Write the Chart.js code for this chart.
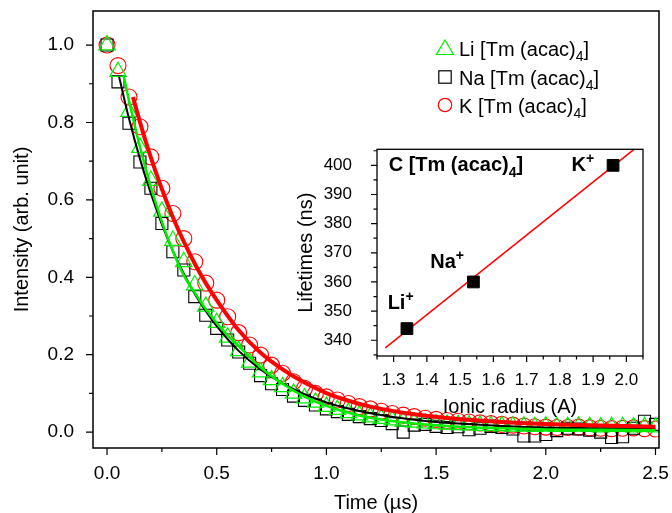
<!DOCTYPE html>
<html lang="en">
<head>
    <meta charset="UTF-8">
    <title>Tm (acac)4 decay</title>
    <style>
        body { margin: 0; background: #fff; }
        #wrap { position: relative; width: 672px; height: 513px; }
        #inset { position: absolute; left: 290px; top: 140px; }
    </style>
</head>
<body>
    <div id="wrap">
        <canvas id="main" width="672" height="513"></canvas>
        <canvas id="inset" width="370" height="280"></canvas>
    </div>

    <script src="https://cdn.jsdelivr.net/npm/chart.js"></script>

    <script>
        // decay data, time in us
        const timeUs = [0, 0.05, 0.1, 0.15, 0.2, 0.25, 0.3, 0.35, 0.4, 0.45, 0.5, 0.55, 0.6, 0.65, 0.7, 0.75, 0.8, 0.85, 0.9, 0.95,
            1.0, 1.05, 1.1, 1.15, 1.2, 1.25, 1.3, 1.35, 1.4, 1.45, 1.5, 1.55, 1.6, 1.65, 1.7, 1.75, 1.8, 1.85, 1.9, 1.95,
            2.0, 2.05, 2.1, 2.15, 2.2, 2.25, 2.3, 2.35, 2.4, 2.45, 2.5];
        const liData = [1.0, 0.931, 0.828, 0.735, 0.65, 0.57, 0.495, 0.44, 0.38, 0.325, 0.283, 0.245, 0.21, 0.18, 0.155, 0.135, 0.117, 0.1, 0.088, 0.077,
            0.066, 0.058, 0.05, 0.044, 0.039, 0.035, 0.031, 0.028, 0.025, 0.023, 0.021, 0.02, 0.019, 0.018, 0.017, 0.016, 0.016, 0.015, 0.015, 0.014,
            0.015, 0.014, 0.014, 0.015, 0.014, 0.013, 0.014, 0.014, 0.013, 0.014, 0.013];
        const naData = [1.0, 0.905, 0.798, 0.698, 0.63, 0.539, 0.466, 0.419, 0.35, 0.302, 0.268, 0.238, 0.207, 0.178, 0.146, 0.125, 0.11, 0.093, 0.082, 0.07,
            0.06, 0.053, 0.046, 0.04, 0.035, 0.03, 0.022, 0.0, 0.018, 0.02, 0.015, 0.012, 0.014, 0.006, 0.01, 0.015, 0.012, 0.008, -0.01, -0.01,
            -0.006, 0.004, 0.01, 0.008, 0.005, 0.0, -0.014, -0.012, 0.01, 0.028, 0.02];
        const kData = [1.0, 0.947, 0.866, 0.789, 0.711, 0.63, 0.565, 0.5, 0.44, 0.385, 0.341, 0.298, 0.257, 0.225, 0.199, 0.173, 0.152, 0.13, 0.113, 0.1,
            0.091, 0.083, 0.074, 0.066, 0.06, 0.054, 0.048, 0.044, 0.04, 0.036, 0.033, 0.03, 0.028, 0.026, 0.024, 0.022, 0.02, 0.018, 0.016, 0.014,
            0.013, 0.012, 0.012, 0.013, 0.011, 0.01, 0.009, 0.01, 0.011, 0.009, 0.008];

        // fitted curves
        const fitLiT = [0.075, 0.1, 0.15, 0.2, 0.25, 0.3, 0.35, 0.4, 0.45, 0.5, 0.55, 0.6, 0.7, 0.8, 0.9, 1.0, 1.1, 1.2, 1.4, 1.6, 1.8, 2.0, 2.25, 2.5];
        const fitLi = [0.922, 0.857, 0.737, 0.633, 0.544, 0.468, 0.405, 0.36, 0.318, 0.282, 0.25, 0.222, 0.167, 0.125, 0.092, 0.068, 0.05, 0.037, 0.022, 0.014, 0.01, 0.007, 0.006, 0.005];
        const fitNaT = [0.055, 0.1, 0.15, 0.2, 0.25, 0.3, 0.35, 0.4, 0.45, 0.5, 0.6, 0.7, 0.8, 0.9, 1.0, 1.1, 1.2, 1.4, 1.6, 1.8, 2.0, 2.25, 2.5];
        const fitNa = [0.918, 0.81, 0.706, 0.616, 0.537, 0.468, 0.409, 0.357, 0.313, 0.274, 0.21, 0.162, 0.126, 0.098, 0.077, 0.061, 0.049, 0.032, 0.022, 0.016, 0.012, 0.01, 0.009];
        const fitKT = [0.118, 0.15, 0.2, 0.25, 0.3, 0.35, 0.4, 0.45, 0.5, 0.6, 0.7, 0.8, 0.9, 1.0, 1.1, 1.2, 1.4, 1.6, 1.8, 2.0, 2.25, 2.5];
        const fitK = [0.866, 0.801, 0.709, 0.628, 0.555, 0.492, 0.435, 0.385, 0.341, 0.263, 0.205, 0.162, 0.128, 0.101, 0.081, 0.066, 0.046, 0.034, 0.026, 0.021, 0.017, 0.014];

        const legendNames = ["Li", "Na", "K"];
        const mainXTicks = [0, 0.5, 1.0, 1.5, 2.0, 2.5];
        const mainXMinor = [0.25, 0.75, 1.25, 1.75, 2.25];
        const mainYTicks = [0, 0.2, 0.4, 0.6, 0.8, 1.0];
        const mainYMinor = [0.1, 0.3, 0.5, 0.7, 0.9];

        // inset: lifetime vs ionic radius
        const ionNames = ["Li", "Na", "K"];
        const ionRadius = [1.34, 1.54, 1.96];
        const lifetimeNs = [344, 360, 400];
        const fitLineRadius = [1.275, 2.023];
        const fitLineNs = [337.4, 405.5];
        const ionLabelX = [1.282, 1.41, 1.835];
        const ionLabelY = [350.7, 364.7, 398];
        const insetTitlePos = [1.285, 398];
        const insetXTicks = [1.3, 1.4, 1.5, 1.6, 1.7, 1.8, 1.9, 2.0];
        const insetXMinor = [1.25, 1.35, 1.45, 1.55, 1.65, 1.75, 1.85, 1.95, 2.05];
        const insetYTicks = [340, 350, 360, 370, 380, 390, 400];
        const insetYMinor = [335, 345, 355, 365, 375, 385, 395, 405];

        const FONT = '"Liberation Sans", Arial, sans-serif';
        const GREEN = "#00ee00";
        const RED = "#ff0000";
        Chart.defaults.font.family = FONT;
        Chart.defaults.color = "#000";

        const pts = (xs, ys) => xs.map((x, i) => ({x, y: ys[i]}));

        // fixed axis box sizes, no extra label overflow padding
        const fixX = h => s => { s.height = h; s.paddingLeft = 0; s.paddingRight = 0; };
        const fixY = w => s => { s.width = w; s.paddingTop = 0; s.paddingBottom = 0; };

        // text with sub / superscripts: segs = [[text, "sub"|"sup"|null], ...]
        function drawRich(ctx, x, y, segs, size, weight) {
            let cx = x;
            segs.forEach(([txt, kind]) => {
                const s = kind ? size * 0.7 : size;
                const dy = kind === "sub" ? size * 0.28 : (kind === "sup" ? -size * 0.42 : 0);
                ctx.font = weight + " " + s + "px " + FONT;
                ctx.fillText(txt, cx, y + dy);
                cx += ctx.measureText(txt).width;
            });
        }

        // box around plot + outward ticks (major and minor)
        function frameTicks(cfg) {
            return {
                id: "frameTicks",
                afterDatasetsDraw(chart) {
                    const {ctx, chartArea: a, scales} = chart;
                    ctx.save();
                    ctx.strokeStyle = "#000";
                    ctx.lineWidth = cfg.frame;
                    ctx.strokeRect(a.left, a.top, a.right - a.left, a.bottom - a.top);
                    ctx.lineWidth = 1.2;
                    ctx.beginPath();
                    const xt = (vals, len) => vals.forEach(v => {
                        const p = scales.x.getPixelForValue(v);
                        ctx.moveTo(p, a.bottom); ctx.lineTo(p, a.bottom + len);
                    });
                    const yt = (vals, len) => vals.forEach(v => {
                        const p = scales.y.getPixelForValue(v);
                        ctx.moveTo(a.left, p); ctx.lineTo(a.left - len, p);
                    });
                    xt(cfg.xMajor, cfg.major); xt(cfg.xMinor, cfg.minor);
                    yt(cfg.yMajor, cfg.major); yt(cfg.yMinor, cfg.minor);
                    ctx.stroke();
                    ctx.restore();
                }
            };
        }

        const mainLegend = {
            id: "mainLegend",
            afterDraw(chart) {
                const ctx = chart.ctx;
                const cx = 445, rows = [48, 77, 105];
                ctx.save();
                ctx.lineWidth = 1.2;
                // triangle
                ctx.strokeStyle = GREEN;
                ctx.beginPath();
                ctx.moveTo(cx, rows[0] - 8); ctx.lineTo(cx + 8.5, rows[0] + 6.5); ctx.lineTo(cx - 8.5, rows[0] + 6.5);
                ctx.closePath(); ctx.stroke();
                // square
                ctx.strokeStyle = "#000";
                ctx.strokeRect(cx - 6.2, rows[1] - 6.2, 12.4, 12.4);
                // circle
                ctx.strokeStyle = RED;
                ctx.beginPath(); ctx.arc(cx, rows[2], 6.7, 0, Math.PI * 2); ctx.stroke();
                ctx.fillStyle = "#000";
                ctx.textBaseline = "alphabetic";
                ctx.textAlign = "left";
                legendNames.forEach((n, i) => {
                    drawRich(ctx, 459, rows[i] + 7.5, [[n + " [Tm (acac)", null], ["4", "sub"], ["]", null]], 20, "normal");
                });
                ctx.restore();
            }
        };

        const insetText = {
            id: "insetText",
            afterDraw(chart) {
                const {ctx, scales: {x, y}} = chart;
                ctx.save();
                ctx.fillStyle = "#000";
                ctx.textBaseline = "alphabetic";
                ctx.textAlign = "left";
                drawRich(ctx, x.getPixelForValue(insetTitlePos[0]), y.getPixelForValue(insetTitlePos[1]),
                    [["C [Tm (acac)", null], ["4", "sub"], ["]", null]], 20, "bold");
                ionNames.forEach((n, i) => {
                    drawRich(ctx, x.getPixelForValue(ionLabelX[i]), y.getPixelForValue(ionLabelY[i]),
                        [[n, null], ["+", "sup"]], 20, "bold");
                });
                ctx.restore();
            }
        };

        new Chart(document.getElementById("main"), {
            type: "scatter",
            data: {
                datasets: [
                    { data: pts(fitKT, fitK), showLine: true, borderColor: RED, borderWidth: 4, pointRadius: 0, cubicInterpolationMode: "monotone", order: 0 },
                    { data: pts(fitLiT, fitLi), showLine: true, borderColor: GREEN, borderWidth: 2.5, pointRadius: 0, cubicInterpolationMode: "monotone", order: 1 },
                    { data: pts(fitNaT, fitNa), showLine: true, borderColor: "#000", borderWidth: 2, pointRadius: 0, cubicInterpolationMode: "monotone", order: 2 },
                    { data: pts(timeUs, liData), pointStyle: "triangle", pointRadius: 9.5, borderColor: GREEN, backgroundColor: "transparent", pointBorderWidth: 1.2, order: 3 },
                    { data: pts(timeUs, naData), pointStyle: "rect", pointRadius: 8.5, borderColor: "#000", backgroundColor: "transparent", pointBorderWidth: 1.1, order: 4 },
                    { data: pts(timeUs, kData), pointStyle: "circle", pointRadius: 8, borderColor: RED, backgroundColor: "transparent", pointBorderWidth: 1.1, order: 5 }
                ]
            },
            options: {
                responsive: false,
                animation: false,
                layout: { padding: { left: 0, top: 11, right: 13, bottom: 0 } },
                plugins: { legend: { display: false }, tooltip: { enabled: false } },
                scales: {
                    x: {
                        type: "linear", min: -0.064, max: 2.516,
                        afterBuildTicks: s => { s.ticks = mainXTicks.map(v => ({value: v})); },
                        afterFit: fixX(65),
                        grid: { display: false }, border: { display: false },
                        ticks: { font: { size: 19 }, padding: 6, maxRotation: 0, callback: v => v.toFixed(1) },
                        title: { display: true, text: "Time (\u00b5s)", font: { size: 20 }, padding: { top: 0, bottom: -2 } }
                    },
                    y: {
                        type: "linear", min: -0.041, max: 1.088,
                        afterBuildTicks: s => { s.ticks = mainYTicks.map(v => ({value: v})); },
                        afterFit: fixY(93),
                        grid: { display: false }, border: { display: false },
                        ticks: { font: { size: 19 }, padding: 11, callback: v => v.toFixed(1) },
                        title: { display: true, text: "Intensity (arb. unit)", font: { size: 20 }, padding: { top: 10, bottom: 0 } }
                    }
                }
            },
            plugins: [frameTicks({ frame: 1.5, major: 7, minor: 4, xMajor: mainXTicks, xMinor: mainXMinor, yMajor: mainYTicks, yMinor: mainYMinor }), mainLegend]
        });

        new Chart(document.getElementById("inset"), {
            type: "scatter",
            data: {
                datasets: [
                    { data: pts(fitLineRadius, fitLineNs), showLine: true, borderColor: RED, borderWidth: 1.5, pointRadius: 0, order: 1 },
                    { data: pts(ionRadius, lifetimeNs), pointStyle: "rect", pointRadius: 8.3, backgroundColor: "#000", borderColor: "#000", order: 0 }
                ]
            },
            options: {
                responsive: false,
                animation: false,
                layout: { padding: { left: 0, top: 6, right: 17, bottom: 0 } },
                plugins: { legend: { display: false }, tooltip: { enabled: false } },
                scales: {
                    x: {
                        type: "linear", min: 1.25, max: 2.05,
                        afterBuildTicks: s => { s.ticks = insetXTicks.map(v => ({value: v})); },
                        afterFit: fixX(64),
                        grid: { display: false }, border: { display: false },
                        ticks: { font: { size: 17 }, padding: 6, maxRotation: 0, callback: v => v.toFixed(1) },
                        title: { display: true, text: "Ionic radius (A)", font: { size: 20 }, padding: { top: 0, bottom: 1 } }
                    },
                    y: {
                        type: "linear", min: 334.6, max: 405.5,
                        afterBuildTicks: s => { s.ticks = insetYTicks.map(v => ({value: v})); },
                        afterFit: fixY(87),
                        grid: { display: false }, border: { display: false },
                        ticks: { font: { size: 17 }, padding: 17, callback: v => String(v) },
                        title: { display: true, text: "Lifetimes (ns)", font: { size: 20 }, padding: { top: 4, bottom: 0 } }
                    }
                }
            },
            plugins: [frameTicks({ frame: 1.3, major: 6, minor: 3.5, xMajor: insetXTicks, xMinor: insetXMinor, yMajor: insetYTicks, yMinor: insetYMinor }), insetText]
        });
    </script>
</body>
</html>
